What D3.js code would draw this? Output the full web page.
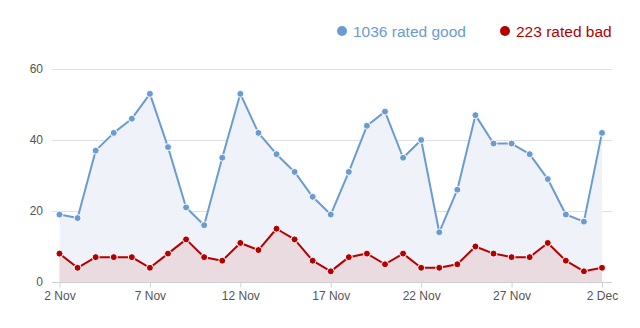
<!DOCTYPE html>
<html>
<head>
<meta charset="utf-8">
<script src="https://cdn.jsdelivr.net/npm/d3@7"></script>
<style>
  html, body { margin: 0; padding: 0; background: #fff; }
  svg { display: block; font-family: "Liberation Sans", Arial, Helvetica, sans-serif; }
</style>
</head>
<body>
<svg id="chart" width="640" height="328"></svg>
<script>
// Daily ratings, 2 Nov to 2 Dec
const startDate = new Date(2015, 10, 2);
const goodRatings = [19, 18, 37, 42, 46, 53, 38, 21, 16, 35, 53, 42, 36, 31, 24, 19, 31, 44, 48, 35, 40, 14, 26, 47, 39, 39, 36, 29, 19, 17, 42];
const badRatings  = [8, 4, 7, 7, 7, 4, 8, 12, 7, 6, 11, 9, 15, 12, 6, 3, 7, 8, 5, 8, 4, 4, 5, 10, 8, 7, 7, 11, 6, 3, 4];
const yTicks = [0, 20, 40, 60];
const seriesNames = ["rated good", "rated bad"];
const seriesColors = ["#6a9bd3", "#b50000"];
const areaColors = ["#eff3f9", "#eadbe0"];

const days = goodRatings.map((_, i) => d3.timeDay.offset(startDate, i));
const series = [goodRatings, badRatings];

const svg = d3.select("#chart");
const plot = { left: 52, right: 612, top: 69, bottom: 282 };

const x = d3.scaleTime()
  .domain([days[0], days[days.length - 1]])
  .range([59.5, 602]);
const y = d3.scaleLinear().domain([0, 60]).range([plot.bottom, plot.top]);

// Horizontal grid lines
svg.append("g")
  .selectAll("line")
  .data(yTicks.filter(t => t > 0))
  .join("line")
  .attr("x1", plot.left).attr("x2", plot.right)
  .attr("y1", d => Math.round(y(d)) + 0.5).attr("y2", d => Math.round(y(d)) + 0.5)
  .attr("stroke", "#dcdfe3").attr("stroke-width", 1);

// Filled areas, good behind bad
series.forEach((vals, s) => {
  const area = d3.area()
    .x((d, i) => x(days[i]))
    .y0(y(0))
    .y1(d => y(d));
  svg.append("path")
    .datum(vals)
    .attr("d", area)
    .attr("fill", areaColors[s]);
});

// Y axis labels
const yAxis = d3.axisLeft(y).tickValues(yTicks).tickSize(0).tickPadding(0);
const gy = svg.append("g").attr("transform", `translate(43,0)`).call(yAxis);
gy.select(".domain").remove();
gy.selectAll("text")
  .attr("font-size", 12).attr("fill", "#555")
  .attr("font-family", "Liberation Sans, Arial, sans-serif");

// X axis
const xTickDates = d3.range(0, days.length, 5).map(i => days[i]);
const monthNames = ["Jan","Feb","Mar","Apr","May","Jun","Jul","Aug","Sep","Oct","Nov","Dec"];
const xAxis = d3.axisBottom(x)
  .tickValues(xTickDates)
  .tickSize(5)
  .tickPadding(4)
  .tickFormat(d => d.getDate() + " " + monthNames[d.getMonth()]);
const gx = svg.append("g").attr("transform", `translate(0,${plot.bottom + 0.5})`).call(xAxis);
gx.select(".domain").attr("d", `M${plot.left},0H${plot.right}`).attr("stroke", "#ccd0d5");
gx.selectAll(".tick line").attr("stroke", "#ccd0d5");
gx.selectAll("text")
  .attr("font-size", 12).attr("fill", "#555")
  .attr("font-family", "Liberation Sans, Arial, sans-serif");

// Lines and markers
series.forEach((vals, s) => {
  const line = d3.line()
    .x((d, i) => x(days[i]))
    .y(d => y(d));
  svg.append("path")
    .datum(vals)
    .attr("d", line)
    .attr("fill", "none")
    .attr("stroke", seriesColors[s])
    .attr("stroke-width", 2)
    .attr("stroke-linejoin", "round");
  svg.append("g")
    .selectAll("circle")
    .data(vals)
    .join("circle")
    .attr("cx", (d, i) => x(days[i]))
    .attr("cy", d => y(d))
    .attr("r", 3.5)
    .attr("fill", seriesColors[s])
    .attr("stroke", "#fff")
    .attr("stroke-width", 1);
});

// Legend with totals
const totals = series.map(v => d3.sum(v));
const legendX = [342, 505];
const legend = svg.append("g");
series.forEach((vals, s) => {
  legend.append("circle")
    .attr("cx", legendX[s]).attr("cy", 31).attr("r", 5)
    .attr("fill", seriesColors[s]);
  legend.append("text")
    .attr("x", legendX[s] + 11).attr("y", 37)
    .attr("font-size", 15.5)
    .attr("fill", seriesColors[s])
    .text(totals[s] + " " + seriesNames[s]);
});
</script>
</body>
</html>
